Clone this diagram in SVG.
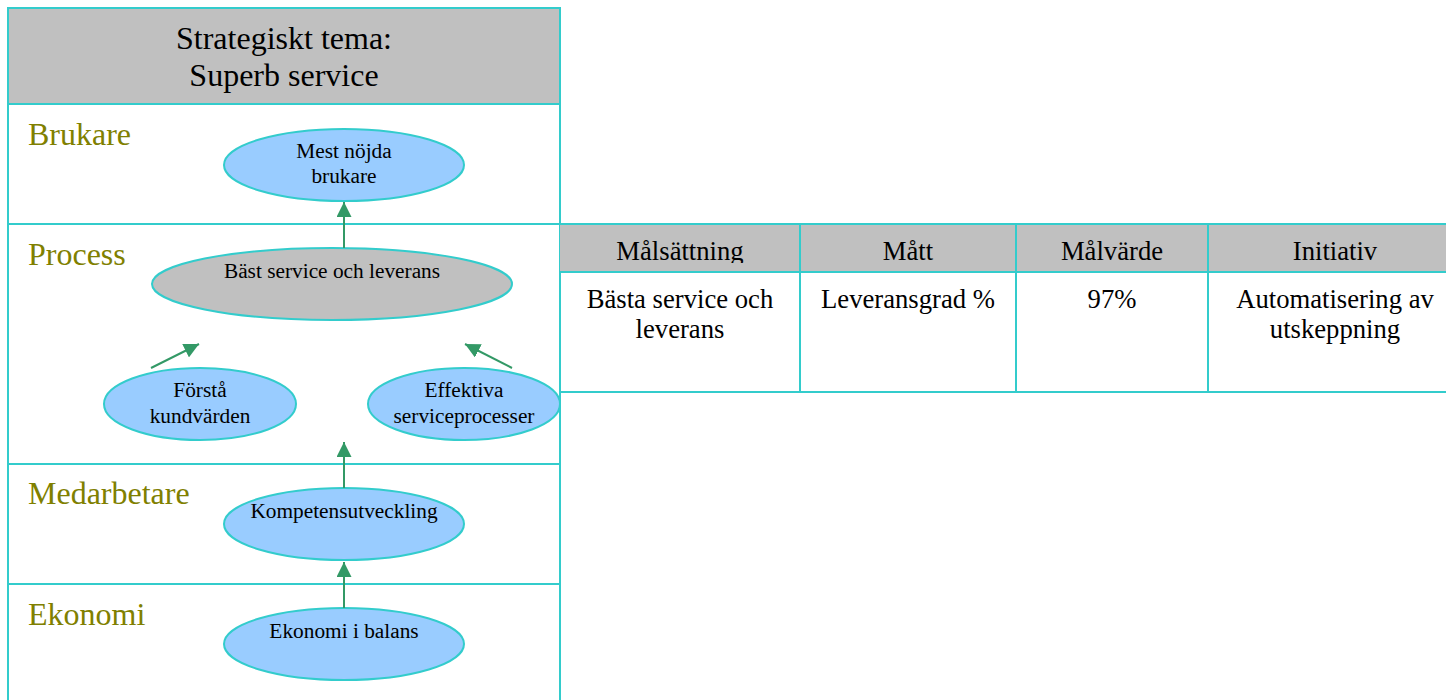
<svg xmlns="http://www.w3.org/2000/svg" width="1446" height="700" viewBox="0 0 1446 700">
<style>
.grid{stroke:#33CCCC;stroke-width:2;fill:none}
.hdr{fill:#C0C0C0}
.title{font-family:"Liberation Serif","Times New Roman",serif;font-size:32px;fill:#000;text-anchor:middle}
.cat{font-family:"Liberation Serif","Times New Roman",serif;font-size:32px;fill:#808000}
.node ellipse{stroke:#33CCCC;stroke-width:2;fill:#99CCFF}
.node ellipse.gray{fill:#C0C0C0}
.nt{font-family:"Liberation Serif","Times New Roman",serif;font-size:21.33px;fill:#000;text-anchor:middle}
.tt{font-family:"Liberation Serif","Times New Roman",serif;font-size:26.67px;fill:#000;text-anchor:middle}
.conn line{stroke:#339966;stroke-width:2;marker-end:url(#ah)}
</style>
<defs>
<marker id="ah" markerUnits="userSpaceOnUse" markerWidth="16" markerHeight="15" refX="15" refY="7.5" orient="auto">
<path d="M0,0 L15,7.5 L0,15 z" fill="#339966"/>
</marker>
<clipPath id="hclip"><rect x="560" y="225" width="886" height="38"/></clipPath>
</defs>
<rect width="1446" height="700" fill="#FFFFFF"/>

<g id="panel">
<rect class="hdr" x="8" y="8" width="552" height="96"/>
<rect class="grid" x="8" y="8" width="552" height="700"/>
<line class="grid" x1="8" y1="104" x2="560" y2="104"/>
<line class="grid" x1="8" y1="224" x2="560" y2="224"/>
<line class="grid" x1="8" y1="464" x2="560" y2="464"/>
<line class="grid" x1="8" y1="584" x2="560" y2="584"/>
<text class="title" x="284" y="49">Strategiskt tema:</text>
<text class="title" x="284" y="86">Superb service</text>
<text class="cat" x="28" y="145">Brukare</text>
<text class="cat" x="28" y="265">Process</text>
<text class="cat" x="28" y="504">Medarbetare</text>
<text class="cat" x="28" y="625">Ekonomi</text>
</g>

<g id="table">
<rect class="hdr" x="560" y="224" width="886" height="48"/>
<line class="grid" x1="560" y1="224" x2="1446" y2="224"/>
<line class="grid" x1="560" y1="272" x2="1446" y2="272"/>
<line class="grid" x1="560" y1="392" x2="1446" y2="392"/>
<line class="grid" x1="800" y1="224" x2="800" y2="392"/>
<line class="grid" x1="1016" y1="224" x2="1016" y2="392"/>
<line class="grid" x1="1208" y1="224" x2="1208" y2="392"/>
<g clip-path="url(#hclip)">
<text class="tt" x="680" y="260">Målsättning</text>
<text class="tt" x="908" y="260">Mått</text>
<text class="tt" x="1112" y="260">Målvärde</text>
<text class="tt" x="1335" y="260">Initiativ</text>
</g>
<text class="tt" x="680" y="308">Bästa service och</text>
<text class="tt" x="680" y="338">leverans</text>
<text class="tt" x="908" y="308">Leveransgrad %</text>
<text class="tt" x="1112" y="308">97%</text>
<text class="tt" x="1335" y="308">Automatisering av</text>
<text class="tt" x="1335" y="338">utskeppning</text>
</g>

<g id="n-mest" class="node">
<ellipse cx="344" cy="165" rx="120" ry="36"/>
<text class="nt" x="344" y="158">Mest nöjda</text>
<text class="nt" x="344" y="183">brukare</text>
</g>
<g id="n-bast" class="node">
<ellipse class="gray" cx="332" cy="284" rx="180" ry="36"/>
<text class="nt" x="332" y="278">Bäst service och leverans</text>
</g>
<g id="n-forsta" class="node">
<ellipse cx="200" cy="404" rx="96" ry="36"/>
<text class="nt" x="200" y="397">Förstå</text>
<text class="nt" x="200" y="423">kundvärden</text>
</g>
<g id="n-effektiva" class="node">
<ellipse cx="464" cy="404" rx="96" ry="36"/>
<text class="nt" x="464" y="397">Effektiva</text>
<text class="nt" x="464" y="423">serviceprocesser</text>
</g>
<g id="n-kompetens" class="node">
<ellipse cx="344" cy="524" rx="120" ry="36"/>
<text class="nt" x="344" y="518">Kompetensutveckling</text>
</g>
<g id="n-ekonomi" class="node">
<ellipse cx="344" cy="644" rx="120" ry="36"/>
<text class="nt" x="344" y="638">Ekonomi i balans</text>
</g>

<g id="connectors" class="conn">
<line x1="344" y1="248" x2="344" y2="202"/>
<line x1="151" y1="368" x2="199" y2="344"/>
<line x1="512" y1="368" x2="465" y2="344"/>
<line x1="344" y1="488" x2="344" y2="442"/>
<line x1="344" y1="608" x2="344" y2="562"/>
</g>
</svg>
